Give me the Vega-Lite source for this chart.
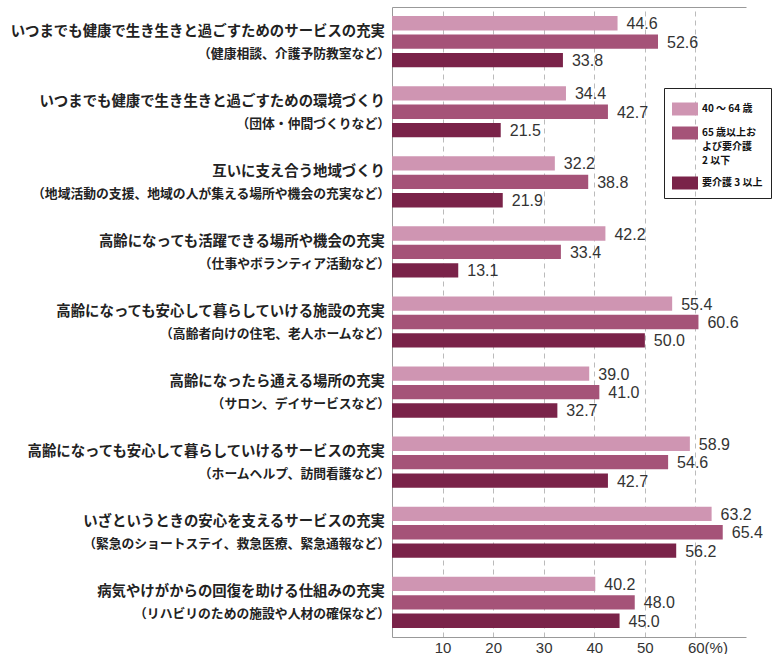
{
  "$schema": "https://vega.github.io/schema/vega-lite/v6.json",
  "autosize": "none",
  "width": 354,
  "height": 630,
  "padding": {"left": 392, "top": 7, "right": 27, "bottom": 17},
  "background": "white",
  "config": {"view": {"stroke": null}, "font": "Noto Sans CJK JP"},
  "data": {"values": [
    {"l1": "いつまでも健康で生き生きと過ごすためのサービスの充実", "l2": "（健康相談、介護予防教室など）", "group": "40 ～ 64 歳", "value": 44.6},
    {"l1": "いつまでも健康で生き生きと過ごすためのサービスの充実", "l2": "（健康相談、介護予防教室など）", "group": "65 歳以上および要介護 2 以下", "value": 52.6},
    {"l1": "いつまでも健康で生き生きと過ごすためのサービスの充実", "l2": "（健康相談、介護予防教室など）", "group": "要介護 3 以上", "value": 33.8},
    {"l1": "いつまでも健康で生き生きと過ごすための環境づくり", "l2": "（団体・仲間づくりなど）", "group": "40 ～ 64 歳", "value": 34.4},
    {"l1": "いつまでも健康で生き生きと過ごすための環境づくり", "l2": "（団体・仲間づくりなど）", "group": "65 歳以上および要介護 2 以下", "value": 42.7},
    {"l1": "いつまでも健康で生き生きと過ごすための環境づくり", "l2": "（団体・仲間づくりなど）", "group": "要介護 3 以上", "value": 21.5},
    {"l1": "互いに支え合う地域づくり", "l2": "（地域活動の支援、地域の人が集える場所や機会の充実など）", "group": "40 ～ 64 歳", "value": 32.2},
    {"l1": "互いに支え合う地域づくり", "l2": "（地域活動の支援、地域の人が集える場所や機会の充実など）", "group": "65 歳以上および要介護 2 以下", "value": 38.8},
    {"l1": "互いに支え合う地域づくり", "l2": "（地域活動の支援、地域の人が集える場所や機会の充実など）", "group": "要介護 3 以上", "value": 21.9},
    {"l1": "高齢になっても活躍できる場所や機会の充実", "l2": "（仕事やボランティア活動など）", "group": "40 ～ 64 歳", "value": 42.2},
    {"l1": "高齢になっても活躍できる場所や機会の充実", "l2": "（仕事やボランティア活動など）", "group": "65 歳以上および要介護 2 以下", "value": 33.4},
    {"l1": "高齢になっても活躍できる場所や機会の充実", "l2": "（仕事やボランティア活動など）", "group": "要介護 3 以上", "value": 13.1},
    {"l1": "高齢になっても安心して暮らしていける施設の充実", "l2": "（高齢者向けの住宅、老人ホームなど）", "group": "40 ～ 64 歳", "value": 55.4},
    {"l1": "高齢になっても安心して暮らしていける施設の充実", "l2": "（高齢者向けの住宅、老人ホームなど）", "group": "65 歳以上および要介護 2 以下", "value": 60.6},
    {"l1": "高齢になっても安心して暮らしていける施設の充実", "l2": "（高齢者向けの住宅、老人ホームなど）", "group": "要介護 3 以上", "value": 50.0},
    {"l1": "高齢になったら通える場所の充実", "l2": "（サロン、デイサービスなど）", "group": "40 ～ 64 歳", "value": 39.0},
    {"l1": "高齢になったら通える場所の充実", "l2": "（サロン、デイサービスなど）", "group": "65 歳以上および要介護 2 以下", "value": 41.0},
    {"l1": "高齢になったら通える場所の充実", "l2": "（サロン、デイサービスなど）", "group": "要介護 3 以上", "value": 32.7},
    {"l1": "高齢になっても安心して暮らしていけるサービスの充実", "l2": "（ホームヘルプ、訪問看護など）", "group": "40 ～ 64 歳", "value": 58.9},
    {"l1": "高齢になっても安心して暮らしていけるサービスの充実", "l2": "（ホームヘルプ、訪問看護など）", "group": "65 歳以上および要介護 2 以下", "value": 54.6},
    {"l1": "高齢になっても安心して暮らしていけるサービスの充実", "l2": "（ホームヘルプ、訪問看護など）", "group": "要介護 3 以上", "value": 42.7},
    {"l1": "いざというときの安心を支えるサービスの充実", "l2": "（緊急のショートステイ、救急医療、緊急通報など）", "group": "40 ～ 64 歳", "value": 63.2},
    {"l1": "いざというときの安心を支えるサービスの充実", "l2": "（緊急のショートステイ、救急医療、緊急通報など）", "group": "65 歳以上および要介護 2 以下", "value": 65.4},
    {"l1": "いざというときの安心を支えるサービスの充実", "l2": "（緊急のショートステイ、救急医療、緊急通報など）", "group": "要介護 3 以上", "value": 56.2},
    {"l1": "病気やけがからの回復を助ける仕組みの充実", "l2": "（リハビリのための施設や人材の確保など）", "group": "40 ～ 64 歳", "value": 40.2},
    {"l1": "病気やけがからの回復を助ける仕組みの充実", "l2": "（リハビリのための施設や人材の確保など）", "group": "65 歳以上および要介護 2 以下", "value": 48.0},
    {"l1": "病気やけがからの回復を助ける仕組みの充実", "l2": "（リハビリのための施設や人材の確保など）", "group": "要介護 3 以上", "value": 45.0}
  ]},
  "encoding": {
    "y": {
      "field": "l1", "type": "nominal", "sort": null,
      "scale": {"paddingInner": 0.27, "paddingOuter": 0.13},
      "axis": {"title": null, "labels": false, "ticks": false, "grid": false, "domainColor": "#999", "domainWidth": 1}
    }
  },
  "layer": [
    {
      "mark": {"type": "bar"},
      "encoding": {
        "yOffset": {"field": "group", "type": "nominal", "sort": ["40 ～ 64 歳", "65 歳以上および要介護 2 以下", "要介護 3 以上"], "scale": {"paddingInner": 0.22, "paddingOuter": 0}},
        "x": {
          "field": "value", "type": "quantitative",
          "scale": {"domain": [0, 70], "nice": false},
          "axis": {
            "title": null, "values": [10, 20, 30, 40, 50, 60],
            "grid": true, "gridDash": [5, 4], "gridColor": "#bbb",
            "ticks": false, "domainColor": "#999",
            "labelFont": "Liberation Sans", "labelFontSize": 15, "labelColor": "#333", "labelPadding": 3,
            "labelExpr": "datum.value == 60 ? '60(%)' : datum.label",
            "labelAlign": {"condition": {"test": "datum.value == 60", "value": "left"}, "value": "center"},
            "labelOffset": {"condition": {"test": "datum.value == 60", "value": -8}, "value": 0}
          }
        },
        "color": {
          "field": "group", "type": "nominal",
          "sort": ["40 ～ 64 歳", "65 歳以上および要介護 2 以下", "要介護 3 以上"],
          "scale": {"domain": ["40 ～ 64 歳", "65 歳以上および要介護 2 以下", "要介護 3 以上"], "range": ["#CF95B2", "#A55378", "#7A2349"]},
          "legend": {
            "title": null, "orient": "none", "legendX": 272, "legendY": 81,
            "strokeColor": "#222", "padding": 8,
            "symbolType": "M-1,-0.5H1V0.5H-1Z", "symbolSize": 676, "symbolStrokeWidth": 0, "symbolOpacity": 1,
            "labelFont": "Noto Sans CJK JP", "labelFontSize": 10, "labelFontWeight": "bold", "labelColor": "#111",
            "labelOffset": 4, "rowPadding": 4, "labelLimit": 200,
            "labelExpr": "datum.label == '65 歳以上および要介護 2 以下' ? ['65 歳以上お', 'よび要介護', '2 以下'] : datum.label",
            "encode": {"labels": {"update": {"lineHeight": {"value": 14}}}}
          }
        }
      }
    },
    {
      "mark": {"type": "text", "align": "left", "baseline": "middle", "dx": 9, "dy": 1, "fontSize": 16, "font": "Liberation Sans", "color": "#333"},
      "encoding": {
        "yOffset": {"field": "group", "type": "nominal", "sort": ["40 ～ 64 歳", "65 歳以上および要介護 2 以下", "要介護 3 以上"], "scale": {"paddingInner": 0.22, "paddingOuter": 0}},
        "x": {"field": "value", "type": "quantitative", "axis": {"orient": "top", "title": null, "labels": false, "ticks": false, "grid": false, "domainColor": "#999"}},
        "text": {"field": "value", "type": "quantitative", "format": ".1f"}
      }
    },
    {
      "transform": [{"filter": "datum.group == '40 ～ 64 歳'"}],
      "mark": {"type": "text", "align": "right", "baseline": "middle", "dx": -7, "dy": -10, "fontSize": 14.4, "fontWeight": "bold", "color": "#222"},
      "encoding": {
        "x": {"datum": 0, "type": "quantitative", "axis": null},
        "text": {"field": "l1"}
      }
    },
    {
      "transform": [{"filter": "datum.group == '40 ～ 64 歳'"}],
      "mark": {"type": "text", "align": "right", "baseline": "middle", "dx": -2, "dy": 12, "fontSize": 12.8, "fontWeight": "bold", "color": "#222"},
      "encoding": {
        "x": {"datum": 0, "type": "quantitative", "axis": null},
        "text": {"field": "l2"}
      }
    }
  ],
  "resolve": {"axis": {"x": "independent"}}
}
